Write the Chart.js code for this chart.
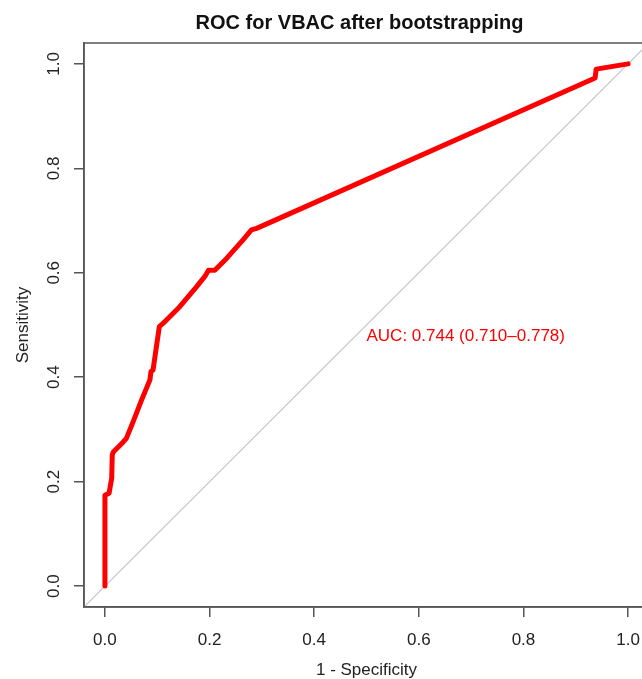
<!DOCTYPE html>
<html>
<head>
<meta charset="utf-8">
<script src="https://cdn.jsdelivr.net/npm/chart.js@4.4.0/dist/chart.umd.min.js"></script>
<style>
  html, body { margin: 0; padding: 0; background: #fff; overflow: hidden; }
  #wrap { width: 660px; height: 679px; position: relative; }
</style>
</head>
<body>
<div id="wrap"><canvas id="c" width="660" height="679"></canvas></div>
<script>
// ROC curve (1 - specificity, sensitivity)
const fpr = [0, 0, 0.008, 0.013, 0.014, 0.016, 0.035, 0.041, 0.054, 0.070, 0.086, 0.088, 0.092, 0.104, 0.111, 0.143, 0.175, 0.191, 0.198, 0.210, 0.233, 0.264, 0.280, 0.290, 0.937, 0.939, 1.0];
const tpr = [0, 0.174, 0.178, 0.207, 0.251, 0.257, 0.276, 0.283, 0.315, 0.356, 0.395, 0.411, 0.414, 0.497, 0.503, 0.535, 0.573, 0.593, 0.605, 0.605, 0.628, 0.663, 0.682, 0.685, 0.973, 0.990, 1.0];
// identity reference line
const diagX = [-0.04, 1.04];
const diagY = [-0.04, 1.04];
// tick labels
const xTicks = [0, 0.2, 0.4, 0.6, 0.8, 1.0];
const yTicks = [0, 0.2, 0.4, 0.6, 0.8, 1.0];
const titleText = "ROC for VBAC after bootstrapping";
const xTitle = "1 - Specificity";
const yTitle = "Sensitivity";
const aucText = "AUC: 0.744 (0.710\u20130.778)";
const aucPos = [0.5, 0.479];

const FONT = '"Liberation Sans", Arial, sans-serif';
const AXC = '#555555';

const rPlugin = {
  id: 'rstyle',
  afterDraw(chart) {
    const ctx = chart.ctx;
    const a = chart.chartArea;
    const xs = chart.scales.x, ys = chart.scales.y;
    ctx.save();
    // box
    ctx.strokeStyle = AXC;
    ctx.lineWidth = 1.5;
    ctx.strokeRect(a.left, a.top, a.right - a.left, a.bottom - a.top);
    // tick labels
    ctx.fillStyle = '#222';
    ctx.font = '17px ' + FONT;
    ctx.textAlign = 'center';
    ctx.textBaseline = 'middle';
    xTicks.forEach(v => {
      ctx.fillText(v.toFixed(1), xs.getPixelForValue(v), 640);
    });
    yTicks.forEach(v => {
      ctx.save();
      ctx.translate(54, ys.getPixelForValue(v));
      ctx.rotate(-Math.PI / 2);
      ctx.fillText(v.toFixed(1), 0, 0);
      ctx.restore();
    });
    // axis titles
    ctx.fillText(xTitle, (a.left + a.right) / 2, 670);
    ctx.save();
    ctx.translate(23, (a.top + a.bottom) / 2);
    ctx.rotate(-Math.PI / 2);
    ctx.fillText(yTitle, 0, 0);
    ctx.restore();
    // main title
    ctx.fillStyle = '#111';
    ctx.font = 'bold 20px ' + FONT;
    ctx.fillText(titleText, (a.left + a.right) / 2 - 7, 23);
    // AUC text
    ctx.fillStyle = '#ff0000';
    ctx.font = '17px ' + FONT;
    ctx.textAlign = 'left';
    ctx.fillText(aucText, xs.getPixelForValue(aucPos[0]), ys.getPixelForValue(aucPos[1]));
    ctx.restore();
  }
};

const setTicks = vals => axis => { axis.ticks = vals.map(v => ({ value: v })); };

new Chart(document.getElementById('c'), {
  type: 'scatter',
  data: {
    datasets: [
      {
        label: 'ROC',
        data: fpr.map((x, i) => ({ x: x, y: tpr[i] })),
        showLine: true,
        borderColor: '#ff0000',
        borderWidth: 5,
        borderCapStyle: 'round',
        borderJoinStyle: 'round',
        pointRadius: 0,
        fill: false,
        tension: 0,
        order: 0
      },
      {
        label: 'identity',
        data: diagX.map((x, i) => ({ x: x, y: diagY[i] })),
        showLine: true,
        borderColor: '#c4c4c4',
        borderWidth: 1.2,
        pointRadius: 0,
        fill: false,
        order: 1
      }
    ]
  },
  options: {
    responsive: false,
    animation: false,
    layout: { padding: { left: 74, top: 43, right: 11, bottom: 62 } },
    plugins: { legend: { display: false }, tooltip: { enabled: false }, title: { display: false } },
    scales: {
      x: {
        type: 'linear', min: -0.04, max: 1.04,
        afterBuildTicks: setTicks(xTicks),
        ticks: { display: false },
        grid: { drawOnChartArea: false, drawTicks: true, tickLength: 10, color: AXC, lineWidth: 1.5 },
        border: { display: true, color: AXC, width: 1.5 }
      },
      y: {
        type: 'linear', min: -0.04, max: 1.04,
        afterBuildTicks: setTicks(yTicks),
        ticks: { display: false },
        grid: { drawOnChartArea: false, drawTicks: true, tickLength: 10, color: AXC, lineWidth: 1.5 },
        border: { display: true, color: AXC, width: 1.5 }
      }
    }
  },
  plugins: [rPlugin]
});
</script>
</body>
</html>
